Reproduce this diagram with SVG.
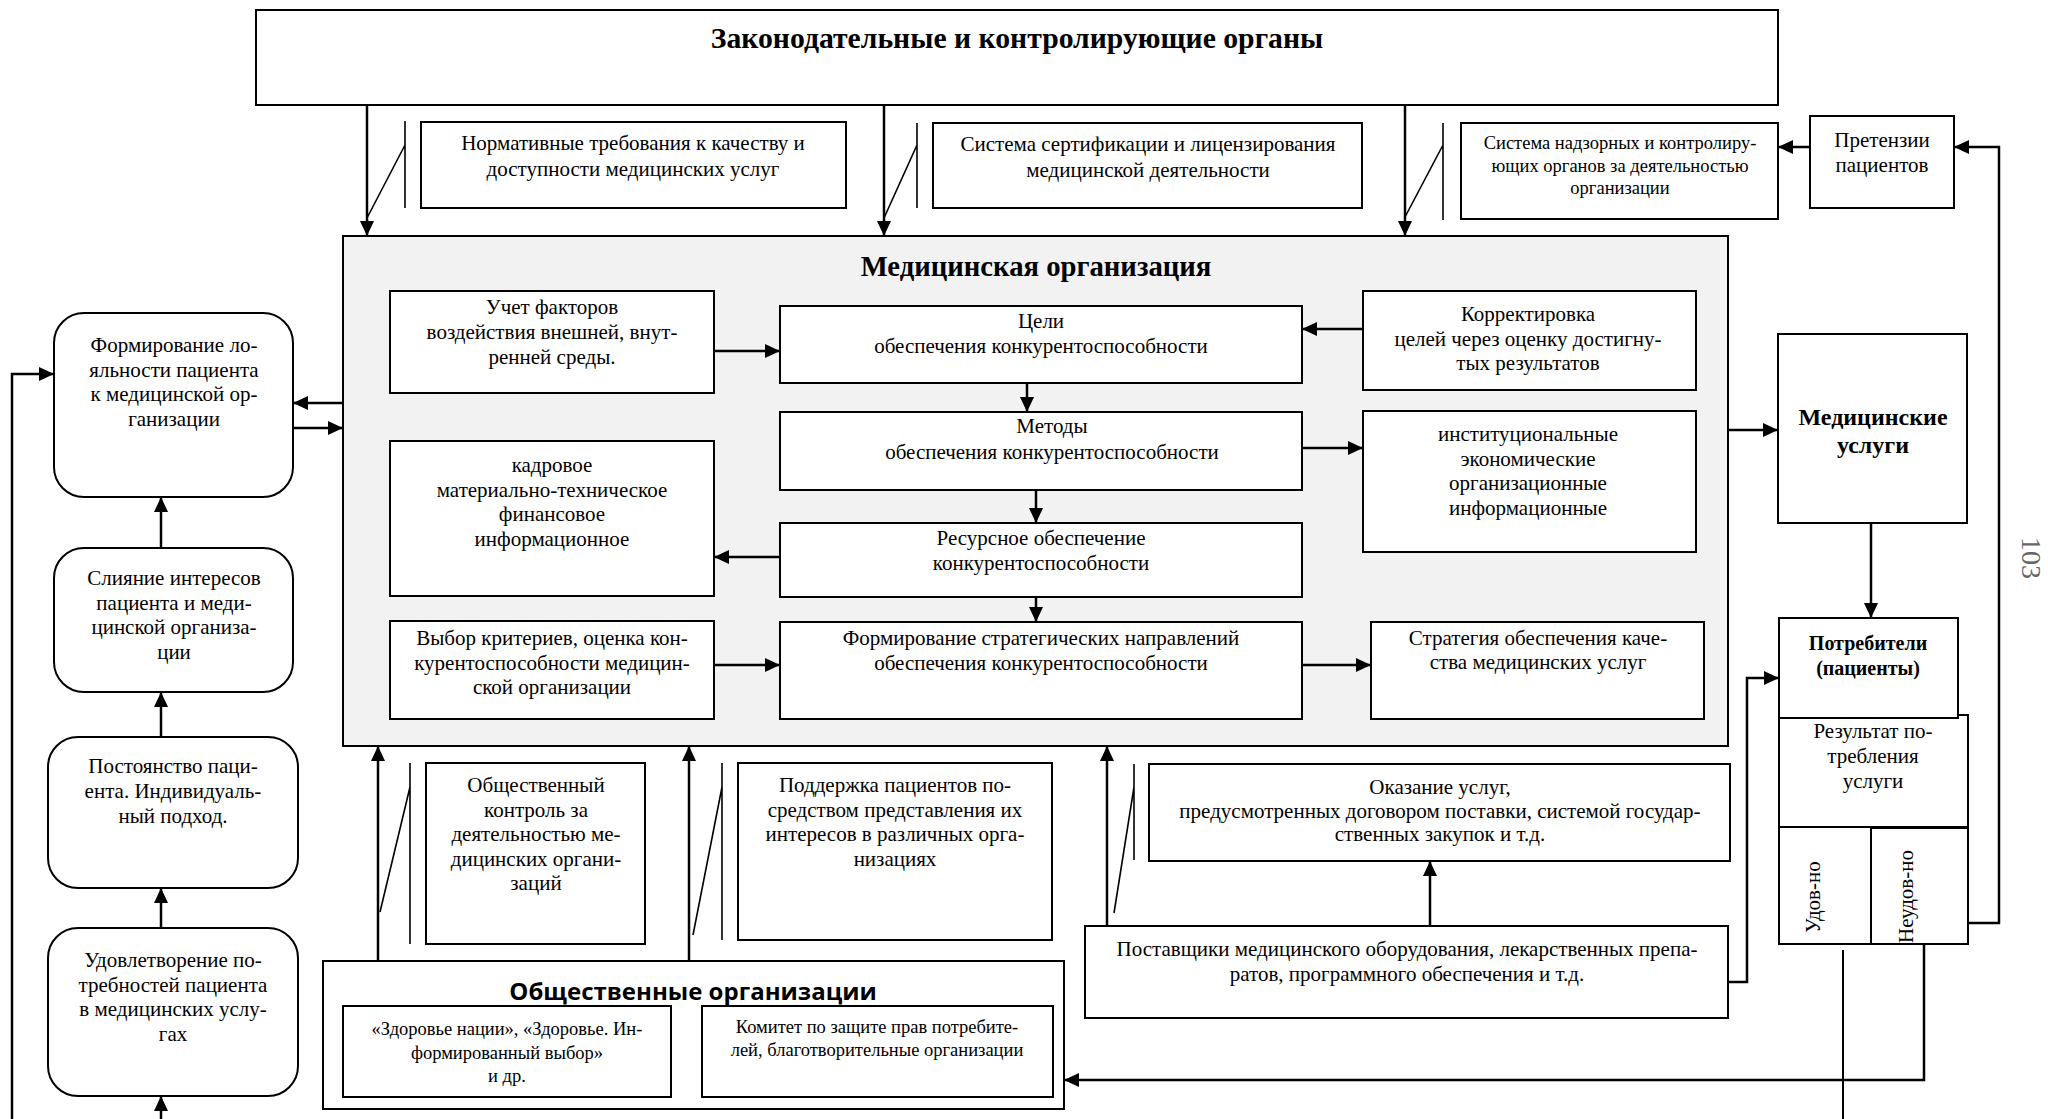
<svg xmlns="http://www.w3.org/2000/svg" width="2048" height="1119" viewBox="0 0 2048 1119">
  <defs>
    <marker id="ah" markerUnits="userSpaceOnUse" markerWidth="16" markerHeight="14" refX="15" refY="7" orient="auto">
      <path d="M0,0 L15,7 L0,14 Z" fill="#000"/>
    </marker>
    <style>
      .box { fill: #fff; stroke: #000; stroke-width: 2; }
      .org { fill: #f2f2f2; stroke: #000; stroke-width: 2; }
      .rbox { fill: #fff; stroke: #000; stroke-width: 2; }
      .t { font-family: "Liberation Serif", "Times New Roman", serif; font-size: 21px; fill: #000; text-anchor: middle; }
      .ts { font-family: "Liberation Serif", "Times New Roman", serif; font-size: 18.5px; fill: #000; text-anchor: middle; }
      .tb { font-family: "Liberation Serif", "Times New Roman", serif; font-weight: bold; fill: #000; text-anchor: middle; }
      .sans { font-family: "Open Sans", "Liberation Sans", sans-serif; font-weight: bold; font-size: 24px; fill: #000; text-anchor: middle; }
      .vt { font-family: "Liberation Serif", "Times New Roman", serif; font-size: 21px; fill: #000; }
      .ln { fill: none; stroke: #000; stroke-width: 2; }
      .ar { fill: none; stroke: #000; stroke-width: 2.5; marker-end: url(#ah); }
      .ct { fill: none; stroke: #000; stroke-width: 1.6; }
    </style>
  </defs>

  <!-- legislative and supervisory bodies -->
  <g id="legislative">
    <rect class="box" x="256" y="10" width="1522" height="95"/>
    <text class="tb" x="1017" y="48" font-size="29.7">Законодательные и контролирующие органы</text>
  </g>

  <g id="norms">
    <rect class="box" x="421" y="122" width="425" height="86"/>
    <text class="t" x="633" y="150"><tspan x="633">Нормативные требования к качеству и</tspan><tspan x="633" dy="26">доступности медицинских услуг</tspan></text>
  </g>

  <g id="certification">
    <rect class="box" x="933" y="123" width="429" height="85"/>
    <text class="t" x="1148" y="151"><tspan x="1148">Система сертификации и лицензирования</tspan><tspan x="1148" dy="26">медицинской деятельности</tspan></text>
  </g>

  <g id="supervision">
    <rect class="box" x="1461" y="123" width="317" height="96"/>
    <text class="ts" x="1620" y="149"><tspan x="1620">Система надзорных и контролиру-</tspan><tspan x="1620" dy="22.5">ющих органов за деятельностью</tspan><tspan x="1620" dy="22.5">организации</tspan></text>
  </g>

  <g id="claims">
    <rect class="box" x="1810" y="116" width="144" height="92"/>
    <text class="t" x="1882" y="147"><tspan x="1882">Претензии</tspan><tspan x="1882" dy="24.5">пациентов</tspan></text>
  </g>

  <!-- medical organization -->
  <g id="medical-org">
    <rect class="org" x="343" y="236" width="1385" height="510"/>
    <text class="tb" x="1036" y="276" font-size="28.7">Медицинская организация</text>
  </g>

  <g id="factors">
    <rect class="box" x="390" y="291" width="324" height="102"/>
    <text class="t" x="552" y="314"><tspan x="552">Учет факторов</tspan><tspan x="552" dy="25">воздействия внешней, внут-</tspan><tspan x="552" dy="25">ренней среды.</tspan></text>
  </g>

  <g id="goals">
    <rect class="box" x="780" y="306" width="522" height="77"/>
    <text class="t" x="1041" y="328"><tspan x="1041">Цели</tspan><tspan x="1041" dy="25">обеспечения конкурентоспособности</tspan></text>
  </g>

  <g id="correction">
    <rect class="box" x="1363" y="291" width="333" height="99"/>
    <text class="t" x="1528" y="321"><tspan x="1528">Корректировка</tspan><tspan x="1528" dy="24.5">целей через оценку достигну-</tspan><tspan x="1528" dy="24.5">тых результатов</tspan></text>
  </g>

  <g id="methods">
    <rect class="box" x="780" y="412" width="522" height="78"/>
    <text class="t" x="1052" y="433"><tspan x="1052">Методы</tspan><tspan x="1052" dy="26">обеспечения конкурентоспособности</tspan></text>
  </g>

  <g id="method-types">
    <rect class="box" x="1363" y="411" width="333" height="141"/>
    <text class="t" x="1528" y="441"><tspan x="1528">институциональные</tspan><tspan x="1528" dy="24.5">экономические</tspan><tspan x="1528" dy="24.5">организационные</tspan><tspan x="1528" dy="24.5">информационные</tspan></text>
  </g>

  <g id="resource-types">
    <rect class="box" x="390" y="441" width="324" height="155"/>
    <text class="t" x="552" y="472"><tspan x="552">кадровое</tspan><tspan x="552" dy="24.7">материально-техническое</tspan><tspan x="552" dy="24.7">финансовое</tspan><tspan x="552" dy="24.7">информационное</tspan></text>
  </g>

  <g id="resources">
    <rect class="box" x="780" y="523" width="522" height="74"/>
    <text class="t" x="1041" y="545"><tspan x="1041">Ресурсное обеспечение</tspan><tspan x="1041" dy="25">конкурентоспособности</tspan></text>
  </g>

  <g id="criteria">
    <rect class="box" x="390" y="621" width="324" height="98"/>
    <text class="t" x="552" y="645"><tspan x="552">Выбор критериев, оценка кон-</tspan><tspan x="552" dy="24.5">курентоспособности медицин-</tspan><tspan x="552" dy="24.5">ской организации</tspan></text>
  </g>

  <g id="strategic-directions">
    <rect class="box" x="780" y="622" width="522" height="97"/>
    <text class="t" x="1041" y="645"><tspan x="1041">Формирование стратегических направлений</tspan><tspan x="1041" dy="25">обеспечения конкурентоспособности</tspan></text>
  </g>

  <g id="quality-strategy">
    <rect class="box" x="1371" y="622" width="333" height="97"/>
    <text class="t" x="1538" y="645"><tspan x="1538">Стратегия обеспечения каче-</tspan><tspan x="1538" dy="23.5">ства медицинских услуг</tspan></text>
  </g>

  <!-- services and consumers -->
  <g id="services">
    <rect class="box" x="1778" y="334" width="189" height="189"/>
    <text class="tb" x="1873" y="425" font-size="24"><tspan x="1873">Медицинские</tspan><tspan x="1873" dy="28">услуги</tspan></text>
  </g>

  <g id="result">
    <rect class="box" x="1779" y="715" width="189" height="112"/>
    <text class="t" x="1873" y="738"><tspan x="1873">Результат по-</tspan><tspan x="1873" dy="25">требления</tspan><tspan x="1873" dy="25">услуги</tspan></text>
  </g>

  <g id="consumers">
    <rect class="box" x="1779" y="618" width="179" height="100"/>
    <text class="tb" x="1868" y="650" font-size="20"><tspan x="1868">Потребители</tspan><tspan x="1868" dy="25">(пациенты)</tspan></text>
  </g>

  <g id="satisfied">
    <rect class="box" x="1779" y="827" width="92" height="117"/>
    <text class="vt" x="1820" y="933" transform="rotate(-90 1820 933)">Удов-но</text>
  </g>

  <g id="unsatisfied">
    <rect class="box" x="1871" y="828" width="97" height="116"/>
    <text class="vt" x="1913" y="943" transform="rotate(-90 1913 943)">Неудов-но</text>
  </g>

  <!-- suppliers -->
  <g id="service-provision">
    <rect class="box" x="1149" y="764" width="581" height="97"/>
    <text class="t" x="1440" y="794"><tspan x="1440">Оказание услуг,</tspan><tspan x="1440" dy="23.5">предусмотренных договором поставки, системой государ-</tspan><tspan x="1440" dy="23.5">ственных закупок и т.д.</tspan></text>
  </g>

  <g id="suppliers">
    <rect class="box" x="1085" y="926" width="643" height="92"/>
    <text class="t" x="1407" y="956"><tspan x="1407">Поставщики медицинского оборудования, лекарственных препа-</tspan><tspan x="1407" dy="25">ратов, программного обеспечения и т.д.</tspan></text>
  </g>

  <!-- public organizations -->
  <g id="public-control">
    <rect class="box" x="426" y="763" width="219" height="181"/>
    <text class="t" x="536" y="792"><tspan x="536">Общественный</tspan><tspan x="536" dy="24.6">контроль за</tspan><tspan x="536" dy="24.6">деятельностью ме-</tspan><tspan x="536" dy="24.6">дицинских органи-</tspan><tspan x="536" dy="24.6">заций</tspan></text>
  </g>

  <g id="patient-support">
    <rect class="box" x="738" y="763" width="314" height="177"/>
    <text class="t" x="895" y="792"><tspan x="895">Поддержка пациентов по-</tspan><tspan x="895" dy="24.6">средством представления их</tspan><tspan x="895" dy="24.6">интересов в различных орга-</tspan><tspan x="895" dy="24.6">низациях</tspan></text>
  </g>

  <g id="public-orgs">
    <rect class="box" x="323" y="961" width="741" height="148"/>
    <text class="sans" x="693" y="1000">Общественные организации</text>
  </g>

  <g id="health-nation">
    <rect class="box" x="343" y="1006" width="328" height="91"/>
    <text class="ts" x="507" y="1035"><tspan x="507">«Здоровье нации», «Здоровье. Ин-</tspan><tspan x="507" dy="23.5">формированный выбор»</tspan><tspan x="507" dy="23.5">и др.</tspan></text>
  </g>

  <g id="consumer-committee">
    <rect class="box" x="702" y="1006" width="351" height="91"/>
    <text class="ts" x="877" y="1033"><tspan x="877">Комитет по защите прав потребите-</tspan><tspan x="877" dy="22.5">лей, благотворительные организации</tspan></text>
  </g>

  <!-- loyalty chain -->
  <g id="loyalty">
    <rect class="rbox" x="54" y="313" width="239" height="184" rx="30"/>
    <text class="t" x="174" y="352"><tspan x="174">Формирование ло-</tspan><tspan x="174" dy="24.7">яльности пациента</tspan><tspan x="174" dy="24.7">к медицинской ор-</tspan><tspan x="174" dy="24.7">ганизации</tspan></text>
  </g>

  <g id="interests">
    <rect class="rbox" x="54" y="548" width="239" height="144" rx="30"/>
    <text class="t" x="174" y="585"><tspan x="174">Слияние интересов</tspan><tspan x="174" dy="24.7">пациента и меди-</tspan><tspan x="174" dy="24.7">цинской организа-</tspan><tspan x="174" dy="24.7">ции</tspan></text>
  </g>

  <g id="constancy">
    <rect class="rbox" x="48" y="737" width="250" height="151" rx="30"/>
    <text class="t" x="173" y="773"><tspan x="173">Постоянство паци-</tspan><tspan x="173" dy="25">ента. Индивидуаль-</tspan><tspan x="173" dy="25">ный подход.</tspan></text>
  </g>

  <g id="satisfaction">
    <rect class="rbox" x="48" y="928" width="250" height="168" rx="30"/>
    <text class="t" x="173" y="967"><tspan x="173">Удовлетворение по-</tspan><tspan x="173" dy="24.7">требностей пациента</tspan><tspan x="173" dy="24.7">в медицинских услу-</tspan><tspan x="173" dy="24.7">гах</tspan></text>
  </g>

  <!-- page number -->
  <text id="page-number" x="2022" y="558" transform="rotate(90 2022 558)" font-family="Liberation Serif, serif" font-size="28" fill="#666" text-anchor="middle">103</text>

  <!-- connectors -->
  <g id="connectors">
    <!-- from legislative bodies down to the organization -->
    <path class="ar" d="M367,105 V236"/>
    <path class="ar" d="M884,105 V236"/>
    <path class="ar" d="M1405,105 V236"/>
    <path class="ct" d="M405,121 V208 M405,145 L367,218"/>
    <path class="ct" d="M917,123 V208 M917,145 L884,218"/>
    <path class="ct" d="M1443,123 V220 M1443,145 L1405,217"/>

    <!-- claims loop -->
    <path class="ar" d="M1810,147 H1778"/>
    <path class="ar" d="M1969,923 H1999 V147 H1954"/>

    <!-- loyalty chain -->
    <path class="ar" d="M343,403 H293"/>
    <path class="ar" d="M293,428 H343"/>
    <path class="ar" d="M12,1119 V374 H54"/>
    <path class="ar" d="M161,548 V497"/>
    <path class="ar" d="M161,737 V692"/>
    <path class="ar" d="M161,928 V888"/>
    <path class="ar" d="M161,1119 V1096"/>

    <!-- inside the organization -->
    <path class="ar" d="M714,351 H780"/>
    <path class="ar" d="M1363,329 H1302"/>
    <path class="ar" d="M1027,383 V412"/>
    <path class="ar" d="M1302,448 H1363"/>
    <path class="ar" d="M1036,490 V523"/>
    <path class="ar" d="M780,557 H714"/>
    <path class="ar" d="M1036,597 V622"/>
    <path class="ar" d="M714,665 H780"/>
    <path class="ar" d="M1302,665 H1371"/>

    <!-- services and consumers -->
    <path class="ar" d="M1728,430 H1778"/>
    <path class="ar" d="M1871,523 V618"/>
    <path class="ar" d="M1728,982 H1747 V678 H1779"/>

    <!-- suppliers -->
    <path class="ar" d="M1107,926 V746"/>
    <path class="ct" d="M1134,764 V860 M1134,787 L1114,913"/>
    <path class="ar" d="M1430,926 V861"/>

    <!-- public organizations -->
    <path class="ar" d="M378,961 V746"/>
    <path class="ar" d="M689,961 V746"/>
    <path class="ct" d="M410,763 V944 M410,787 L380,912"/>
    <path class="ct" d="M722,763 V940 M722,787 L693,935"/>

    <!-- consumption outcomes -->
    <path class="ln" d="M1843,950 V1119"/>
    <path class="ar" d="M1924,944 V1080 H1064"/>
  </g>
</svg>
